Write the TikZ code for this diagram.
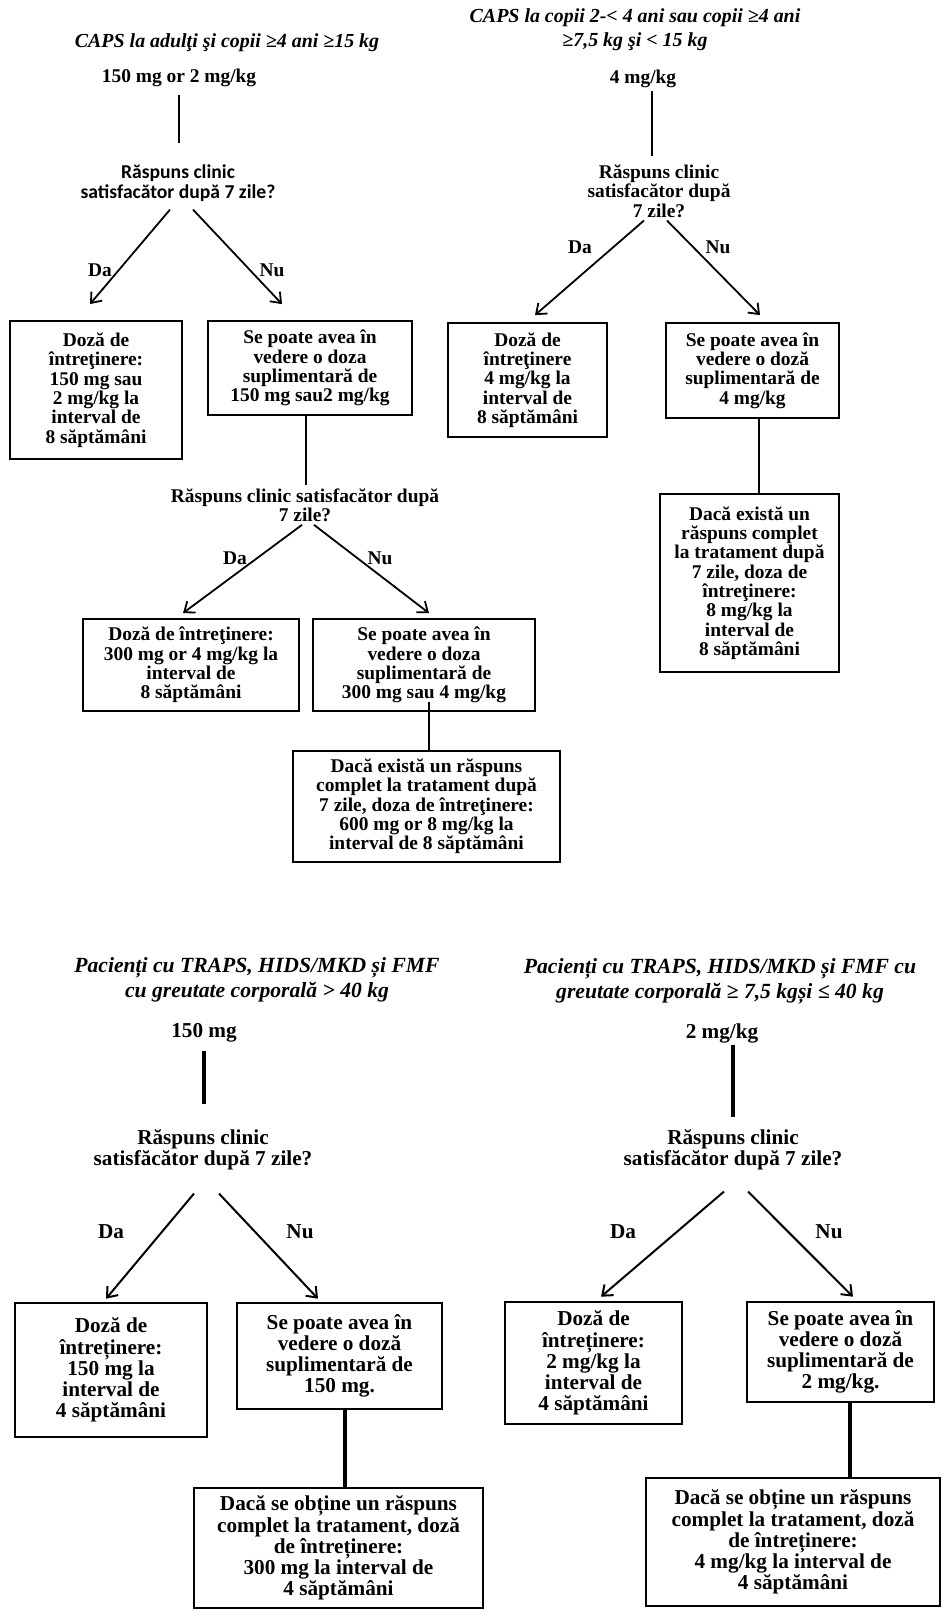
\documentclass[tikz,border=0pt]{standalone}
\usepackage{fontspec}
\setmainfont{Liberation Serif}
\newfontfamily\calibfont{Carlito}
\usepackage{tikz}
\usetikzlibrary{arrows.meta}

\newcommand\uptxt{\fontsize{19.5}{19.4}\selectfont\bfseries}
\newcommand\lowtxt{\fontsize{21.3}{21.3}\selectfont\bfseries}
\newcommand\uphead{\fontsize{20}{24}\selectfont\bfseries\itshape}
\newcommand\lowhead{\fontsize{21.7}{25}\selectfont\bfseries\itshape}

\begin{document}
\begin{tikzpicture}[x=1bp, y=-1bp,
    upbox/.style={draw, line width=1.8bp, align=center, inner sep=0pt, font=\uptxt},
    lowbox/.style={draw, line width=2.6bp, align=center, inner sep=0pt, font=\lowtxt},
    uplabel/.style={align=center, inner sep=0pt, font=\uptxt},
    lowlabel/.style={align=center, inner sep=0pt, font=\lowtxt},
    arr/.style={-{Straight Barb[length=9bp,width=14bp]}, line width=1.8bp},
    link/.style={line width=1.8bp},
    thicklink/.style={line width=3.8bp}]
\useasboundingbox (0,0) rectangle (942,1611);

% CAPS >= 15 kg
\node[uplabel, font=\uphead] (capsA) at (227,43) {CAPS la adulţi şi copii ≥4 ani ≥15 kg};
\node[uplabel] (doseA) at (179,78) {150 mg or 2 mg/kg};
\node[uplabel, font=\calibfont\fontsize{19.7}{20}\selectfont\bfseries] (askA) at (178,183) {Răspuns clinic\\satisfacător după 7 zile?};
\node[uplabel] (daA) at (100,270) {Da};
\node[uplabel] (nuA) at (272,270) {Nu};
\node[upbox, minimum width=172bp, minimum height=138bp] (yesA) at (96,390) {Doză de\\întreţinere:\\150 mg sau\\2 mg/kg la\\interval de\\8 săptămâni};
\node[upbox, minimum width=204bp, minimum height=94bp] (noA) at (310,368) {Se poate avea în\\vedere o doza\\suplimentară de\\150 mg sau2 mg/kg};
\node[uplabel] (askA2) at (305,505) {Răspuns clinic satisfacător după\\7 zile?};
\node[uplabel] (daA2) at (235,558) {Da};
\node[uplabel] (nuA2) at (380,558) {Nu};
\node[upbox, minimum width=216bp, minimum height=92bp] (yesA2) at (191,665) {Doză de întreţinere:\\300 mg or 4 mg/kg la\\interval de\\8 săptămâni};
\node[upbox, minimum width=222bp, minimum height=92bp] (noA2) at (424,665) {Se poate avea în\\vedere o doza\\suplimentară de\\300 mg sau 4 mg/kg};
\node[upbox, minimum width=267bp, minimum height=111bp] (fullA) at (426.5,806.5) {Dacă există un răspuns\\complet la tratament după\\7 zile, doza de întreţinere:\\600 mg or 8 mg/kg la\\interval de 8 săptămâni};

\draw[link, shorten <=8bp, shorten >=21bp] (doseA.south) -- (doseA.south |- askA.north);
\draw[arr] ([xshift=-8bp,yshift=-8bp]askA.south) -- ([xshift=-6bp,yshift=16bp]yesA.north);
\draw[arr] ([xshift=15bp,yshift=-8bp]askA.south) -- ([xshift=-28bp,yshift=16bp]noA.north);
\draw[link] ([xshift=-4bp]noA.south) -- ([xshift=-4bp,yshift=3bp]noA.south |- askA2.north);
\draw[arr] ([xshift=-3bp,yshift=-3bp]askA2.south) -- ([xshift=-8bp,yshift=5bp]yesA2.north);
\draw[arr] ([xshift=9bp,yshift=-3bp]askA2.south) -- ([xshift=5bp,yshift=5bp]noA2.north);
\draw[link] ([xshift=5bp,yshift=10bp]noA2.south) -- ([xshift=5bp]noA2.south |- fullA.north);

% CAPS < 15 kg
\node[uplabel, font=\uphead] (capsB) at (635,30) {CAPS la copii 2-< 4 ani sau copii ≥4 ani\\≥7,5 kg şi < 15 kg};
\node[uplabel] (doseB) at (643,79) {4 mg/kg};
\node[uplabel] (askB) at (659,191) {Răspuns clinic\\satisfacător după\\7 zile?};
\node[uplabel] (daB) at (580,247) {Da};
\node[uplabel] (nuB) at (718,247) {Nu};
\node[upbox, minimum width=159bp, minimum height=114bp] (yesB) at (527.5,380) {Doză de\\întreţinere\\4 mg/kg la\\interval de\\8 săptămâni};
\node[upbox, minimum width=173bp, minimum height=95bp] (noB) at (752.5,370.5) {Se poate avea în\\vedere o doză\\suplimentară de\\4 mg/kg};
\node[upbox, minimum width=179bp, minimum height=178bp] (fullB) at (749.5,583) {Dacă există un\\răspuns complet\\la tratament după\\7 zile, doza de\\întreţinere:\\8 mg/kg la\\interval de\\8 săptămâni};

\draw[link, shorten <=3bp, shorten >=8bp] ([xshift=9bp]doseB.south) -- ([xshift=9bp]doseB.south |- askB.north);
\draw[arr] ([xshift=-15bp,yshift=-3bp]askB.south) -- ([xshift=7.5bp,yshift=7bp]yesB.north);
\draw[arr] ([xshift=8bp,yshift=-3bp]askB.south) -- ([xshift=7.5bp,yshift=7bp]noB.north);
\draw[link] ([xshift=6.5bp]noB.south) -- ([xshift=6.5bp]noB.south |- fullB.north);

% TRAPS, HIDS/MKD, FMF > 40 kg
\node[uplabel, font=\lowhead] (trapsA) at (257,980) {Pacienți cu TRAPS, HIDS/MKD și FMF\\cu greutate corporală > 40 kg};
\node[lowlabel] (doseC) at (204,1033) {150 mg};
\node[lowlabel] (askC) at (203,1150) {Răspuns clinic\\satisfăcător după 7 zile?};
\node[lowlabel] (daC) at (111,1232) {Da};
\node[lowlabel] (nuC) at (300,1232) {Nu};
\node[lowbox, minimum width=192bp, minimum height=134bp] (yesC) at (111,1370) {Doză de\\întreținere:\\150 mg la\\interval de\\4 săptămâni};
\node[lowbox, minimum width=205bp, minimum height=106bp] (noC) at (339.5,1356) {Se poate avea în\\vedere o doză\\suplimentară de\\150 mg.};
\node[lowbox, minimum width=289bp, minimum height=120bp] (fullC) at (338.5,1548) {Dacă se obține un răspuns\\complet la tratament, doză\\de întreținere:\\300 mg la interval de\\4 săptămâni};

\draw[thicklink, shorten <=8bp, shorten >=25bp] (doseC.south) -- (doseC.south |- askC.north);
\draw[arr, line width=2bp] ([xshift=-9bp,yshift=-23bp]askC.south) -- ([xshift=-5bp,yshift=3bp]yesC.north);
\draw[arr, line width=2bp] ([xshift=16bp,yshift=-23bp]askC.south) -- ([xshift=-21.5bp,yshift=3bp]noC.north);
\draw[thicklink] ([xshift=5.5bp]noC.south) -- ([xshift=5.5bp]noC.south |- fullC.north);

% TRAPS, HIDS/MKD, FMF 7,5-40 kg
\node[uplabel, font=\lowhead] (trapsB) at (720,981) {Pacienți cu TRAPS, HIDS/MKD și FMF cu\\greutate corporală ≥ 7,5 kgși ≤ 40 kg};
\node[lowlabel] (doseD) at (722,1033) {2 mg/kg};
\node[lowlabel] (askD) at (733,1150) {Răspuns clinic\\satisfăcător după 7 zile?};
\node[lowlabel] (daD) at (623,1232) {Da};
\node[lowlabel] (nuD) at (829,1232) {Nu};
\node[lowbox, minimum width=177bp, minimum height=122bp] (yesD) at (593.5,1363) {Doză de\\întreținere:\\2 mg/kg la\\interval de\\4 săptămâni};
\node[lowbox, minimum width=187bp, minimum height=100bp] (noD) at (840.5,1352) {Se poate avea în\\vedere o doză\\suplimentară de\\2 mg/kg.};
\node[lowbox, minimum width=294bp, minimum height=128bp] (fullD) at (793,1542) {Dacă se obține un răspuns\\complet la tratament, doză\\de întreținere:\\4 mg/kg la interval de\\4 săptămâni};

\draw[thicklink, shorten <=2bp, shorten >=12bp] ([xshift=11bp]doseD.south) -- ([xshift=11bp]doseD.south |- askD.north);
\draw[arr, line width=2bp] ([xshift=-9bp,yshift=-21bp]askD.south) -- ([xshift=7.5bp,yshift=4bp]yesD.north);
\draw[arr, line width=2bp] ([xshift=15bp,yshift=-21bp]askD.south) -- ([xshift=12.5bp,yshift=4bp]noD.north);
\draw[thicklink] ([xshift=9.5bp]noD.south) -- ([xshift=9.5bp]noD.south |- fullD.north);
\end{tikzpicture}
\end{document}
